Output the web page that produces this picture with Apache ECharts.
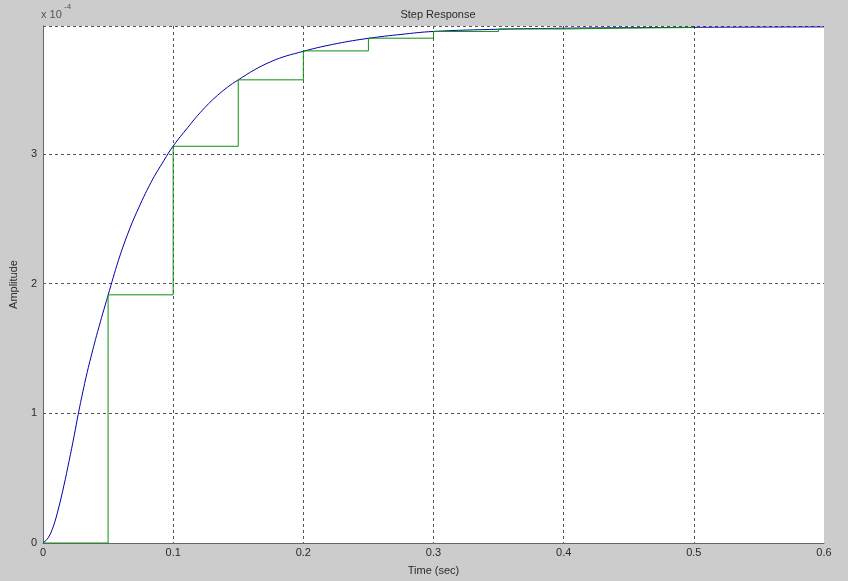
<!DOCTYPE html>
<html>
<head>
<meta charset="utf-8">
<script src="https://cdn.jsdelivr.net/npm/echarts@6/dist/echarts.min.js"></script>
<style>
  html, body { margin: 0; padding: 0; background: #cccccc; }
  #chart { width: 848px; height: 581px; }
</style>
</head>
<body>
<div id="chart"></div>
<script>
// Values are in units of 1e-4 (the axis shows "x 10^-4")
const continuousT = [0.000, 0.004, 0.008, 0.012, 0.016, 0.020, 0.024, 0.027, 0.032, 0.036, 0.042, 0.050, 0.058, 0.065, 0.072, 0.083, 0.093, 0.100, 0.111, 0.121, 0.134, 0.150, 0.175, 0.200, 0.226, 0.250, 0.275, 0.300, 0.350, 0.400, 0.450, 0.500, 0.600];
const continuousV = [0.00, 0.04, 0.13, 0.27, 0.44, 0.63, 0.83, 0.99, 1.23, 1.40, 1.63, 1.91, 2.18, 2.38, 2.55, 2.78, 2.95, 3.06, 3.20, 3.32, 3.45, 3.57, 3.71, 3.79, 3.85, 3.89, 3.92, 3.943, 3.96, 3.968, 3.972, 3.975, 3.978];

const sampleT = [0.00, 0.05, 0.10, 0.15, 0.20, 0.25, 0.30, 0.35, 0.40, 0.45, 0.50];
const sampleV = [0.00, 1.913, 3.058, 3.570, 3.793, 3.891, 3.943, 3.962, 3.969, 3.973, 3.975];

const xTicks = [0, 0.1, 0.2, 0.3, 0.4, 0.5, 0.6];
const yTicks = [0, 1, 2, 3];
const yMax = 3.985;

const titleText = 'Step Response';
const xLabel = 'Time (sec)';
const yLabel = 'Amplitude';

const FONT = '"Liberation Sans", Arial, sans-serif';
const TXT = '#2a2a2a';

const chart = echarts.init(document.getElementById('chart'), null, { renderer: 'canvas' });

const gridLine = { show: true, lineStyle: { color: '#555', type: [3, 3], width: 1 }, showMinLine: false };

chart.setOption({
  backgroundColor: '#cccccc',
  animation: false,
  title: {
    text: titleText, left: 433, top: 4, textAlign: 'center',
    textStyle: { fontFamily: FONT, fontSize: 11, fontWeight: 'normal', color: TXT }
  },
  grid: { left: 42, right: 24, top: 26, bottom: 36, show: true, backgroundColor: '#ffffff', borderWidth: 0 },
  xAxis: {
    type: 'value', min: 0, max: 0.6, interval: 0.1,
    name: xLabel, nameLocation: 'middle', nameGap: 22,
    nameTextStyle: { fontFamily: FONT, fontSize: 11, color: TXT },
    axisLine: { show: true, onZero: false, lineStyle: { color: '#666', width: 1 } },
    axisTick: { show: false },
    axisLabel: { fontFamily: FONT, fontSize: 11, color: TXT, margin: 4,
      formatter: v => xTicks.some(t => Math.abs(t - v) < 1e-9) ? String(Math.round(v * 10) / 10) : '' },
    splitLine: Object.assign({}, gridLine, { showMaxLine: false })
  },
  yAxis: [{
    type: 'value', min: 0, max: yMax, interval: 1,
    name: yLabel, nameLocation: 'middle', nameGap: 24, nameRotate: 90,
    nameTextStyle: { fontFamily: FONT, fontSize: 11, color: TXT },
    axisLine: { show: true, onZero: false, lineStyle: { color: '#666', width: 1 } },
    axisTick: { show: false },
    axisLabel: { fontFamily: FONT, fontSize: 11, color: TXT, margin: 6,
      formatter: v => yTicks.indexOf(Math.round(v)) >= 0 && Math.abs(v - Math.round(v)) < 1e-9 ? String(Math.round(v)) : '' },
    splitLine: { show: true, lineStyle: { color: '#555', type: [3, 3], width: 1 }, showMinLine: false, showMaxLine: true }
  }, {
    type: 'value', min: 0, max: yMax, position: 'right',
    axisLine: { show: true, lineStyle: { color: '#666', width: 1 } },
    axisTick: { show: false }, axisLabel: { show: false }, splitLine: { show: false }
  }],
  graphic: [
    { type: 'text', left: 41, top: 9, style: { text: 'x 10', font: '11px ' + FONT, fill: '#555' } },
    { type: 'text', left: 64, top: 3, style: { text: '-4', font: '8px ' + FONT, fill: '#555' } }
  ],
  series: [
    {
      type: 'line', name: 'continuous', showSymbol: false, symbol: 'none',
      smooth: 0.4,
      data: continuousT.map((t, i) => [t, continuousV[i]]),
      lineStyle: { color: '#0000aa', width: 1 }, z: 3
    },
    {
      type: 'line', name: 'discrete', showSymbol: false, symbol: 'none', step: 'end',
      data: sampleT.map((t, i) => [t, sampleV[i]]),
      lineStyle: { color: '#0f900f', width: 1 }, z: 4
    }
  ]
});
</script>
</body>
</html>
